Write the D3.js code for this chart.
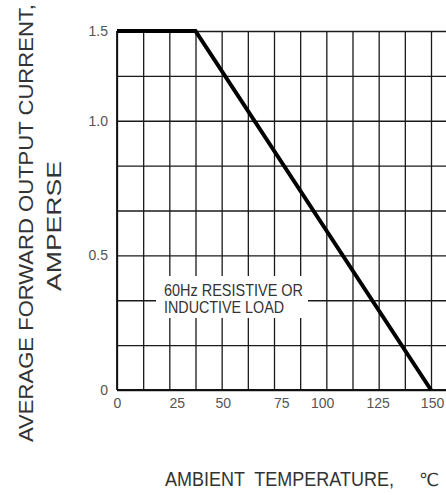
<!DOCTYPE html>
<html>
<head>
<meta charset="utf-8">
<script src="https://cdn.jsdelivr.net/npm/d3@7/dist/d3.min.js"></script>
<style>
  body { margin: 0; background: #fff; }
  text { font-family: "Liberation Sans", Arial, "DejaVu Sans", sans-serif; }
</style>
</head>
<body>
<div id="chart"></div>
<script>
// derating curve : ambient temperature (C) -> average forward current (A)
var curveTemp = [0, 37.5, 150];
var curveAmps = [1.5, 1.5, 0];

// tick labels and where they sit on the sheet (the scan puts them off the grid lines)
var xTickLabels = ["0", "25", "50", "75", "100", "125", "150"];
var xTickPos = [0, 28.5, 50.5, 78.5, 98, 124.5, 150.5];
var yTickLabels = ["0", "0.5", "1.0", "1.5"];
var yTickPos = [0, 0.5625, 1.125, 1.5];

// grid divisions
var xGridStep = 12.5, xGridMax = 162.5;
var yGridStep = 0.1875;

var noteLines = ["60Hz RESISTIVE OR", "INDUCTIVE LOAD"];

var left_border = 117, right_edge = 431;
var top_border = 31, bottom_edge = 390;

var svg = d3.select("#chart")
            .append("svg")
            .attr("width", 446)
            .attr("height", 495);

var x = d3.scaleLinear().domain([0, 150]).range([left_border, right_edge]);
var y = d3.scaleLinear().domain([0, 1.5]).range([bottom_edge, top_border]);

// vertical grid
var gx = svg.append("g")
   .attr("transform", "translate(0," + bottom_edge + ")")
   .call(d3.axisBottom(x)
      .tickValues(d3.range(0, 150.01, xGridStep))
      .tickSize(-(bottom_edge - top_border))
      .tickFormat(""));
gx.select(".domain").remove();
gx.selectAll("line").attr("stroke", "#1a1a1a").attr("stroke-width", 1.3);

// horizontal grid (runs past the last column, cut by the page edge)
var gy = svg.append("g")
   .attr("transform", "translate(" + left_border + ",0)")
   .call(d3.axisLeft(y)
      .tickValues(d3.range(0, 1.501, yGridStep))
      .tickSize(-(x(xGridMax) - left_border))
      .tickFormat(""));
gy.select(".domain").remove();
gy.selectAll("line").attr("stroke", "#1a1a1a").attr("stroke-width", 1.3);

// bottom and left edges a bit heavier
svg.append("line")
   .attr("x1", left_border).attr("x2", x(xGridMax))
   .attr("y1", bottom_edge).attr("y2", bottom_edge)
   .attr("stroke", "#111").attr("stroke-width", 1.8);
svg.append("line")
   .attr("x1", left_border).attr("x2", left_border)
   .attr("y1", top_border).attr("y2", bottom_edge)
   .attr("stroke", "#111").attr("stroke-width", 1.8);

// note box
svg.append("rect")
   .attr("x", 156).attr("y", 276)
   .attr("width", 152).attr("height", 42)
   .attr("fill", "#fff");

svg.selectAll("note")
   .data(noteLines)
   .enter()
   .append("text")
   .attr("x", 164)
   .attr("y", function(d, i) { return 296 + i * 17; })
   .attr("font-size", 16.5)
   .attr("fill", "#333")
   .attr("textLength", function(d, i) { return i == 0 ? 139 : 120; })
   .attr("lengthAdjust", "spacingAndGlyphs")
   .text(function(d) { return d; });

// the curve
var line = d3.line()
   .x(function(d) { return x(d[0]); })
   .y(function(d) { return y(d[1]); });

svg.append("path")
   .datum(d3.zip(curveTemp, curveAmps))
   .attr("d", line)
   .attr("fill", "none")
   .attr("stroke", "#000")
   .attr("stroke-width", 4)
   .attr("stroke-linejoin", "miter");

// tick labels
var ax = svg.append("g")
   .attr("transform", "translate(0," + bottom_edge + ")")
   .call(d3.axisBottom(x)
      .tickValues(xTickPos)
      .tickSize(0)
      .tickPadding(8)
      .tickFormat(function(d, i) { return xTickLabels[i]; }));
ax.select(".domain").remove();
ax.selectAll("text")
   .attr("font-size", 14)
   .attr("font-family", "Liberation Sans, Arial, sans-serif")
   .attr("fill", "#555");

var ay = svg.append("g")
   .attr("transform", "translate(" + left_border + ",0)")
   .call(d3.axisLeft(y)
      .tickValues(yTickPos)
      .tickSize(0)
      .tickPadding(9)
      .tickFormat(function(d, i) { return yTickLabels[i]; }));
ay.select(".domain").remove();
ay.selectAll("text")
   .attr("font-size", 14)
   .attr("font-family", "Liberation Sans, Arial, sans-serif")
   .attr("fill", "#555");

// axis titles
svg.append("text")
   .attr("transform", "translate(33,223) rotate(-90)")
   .attr("text-anchor", "middle")
   .attr("font-size", 20.5)
   .attr("fill", "#333")
   .attr("textLength", 438)
   .attr("lengthAdjust", "spacingAndGlyphs")
   .text("AVERAGE FORWARD OUTPUT CURRENT,");

svg.append("text")
   .attr("transform", "translate(61,226) rotate(-90)")
   .attr("text-anchor", "middle")
   .attr("font-size", 20.5)
   .attr("fill", "#333")
   .attr("textLength", 130)
   .attr("lengthAdjust", "spacingAndGlyphs")
   .text("AMPERSE");

// x title squeezed horizontally like the scan
var xt = svg.append("text")
   .attr("font-size", 21)
   .attr("fill", "#333")
   .attr("xml:space", "preserve")
   .style("white-space", "pre")
   .text("AMBIENT  TEMPERATURE,");
var sx = 229 / xt.node().getComputedTextLength();
xt.attr("transform", "translate(165,486) scale(" + sx + ",1)");

svg.append("text")
   .attr("x", 419)
   .attr("y", 486)
   .attr("font-family", "DejaVu Sans")
   .attr("font-size", 18)
   .attr("fill", "#333")
   .text("\u2103");
</script>
</body>
</html>
